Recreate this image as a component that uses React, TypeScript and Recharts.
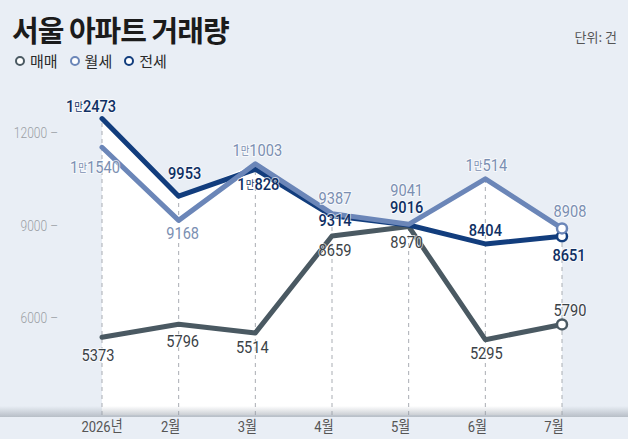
import React from 'react';
import { Area, ComposedChart, LabelList, Line, ReferenceLine, XAxis, YAxis } from 'recharts';

const MONTHS = ['2026년', '2월', '3월', '4월', '5월', '6월', '7월'];
const SALE = [5373, 5796, 5514, 8659, 8970, 5295, 5790];
const MONTHLY_RENT = [11540, 9168, 11003, 9387, 9041, 10514, 8908];
const JEONSE = [12473, 9953, 10828, 9314, 9016, 8404, 8651];
const Y_TICKS = [6000, 9000, 12000];
const Y_DOMAIN: [number, number] = [2850, 13400];

// label placement [dx, dy] relative to each point
const SALE_LABEL_POS = [[-4, 24], [4, 23], [-3, 20], [3, 20], [-2, 22], [1, 19], [8, -8]];
const RENT_LABEL_POS = [[-7, 26], [4, 19], [2, -8], [3, -10], [-2, -28], [1, -8], [8, -11]];
const JEONSE_LABEL_POS = [[-11, -7], [6, -17], [3, 21], [3, 10], [-2, -12], [0, -8], [7, 25]];

const SERIES = [
  { key: 'sale', name: '매매', values: SALE, color: '#4a5962', text: '#3b4247', weight: 400, pos: SALE_LABEL_POS },
  { key: 'jeonse', name: '전세', values: JEONSE, color: '#123d7d', text: '#0f2f63', weight: 500, pos: JEONSE_LABEL_POS },
  { key: 'rent', name: '월세', values: MONTHLY_RENT, color: '#6b86b8', text: '#7b8fb2', weight: 400, pos: RENT_LABEL_POS }
];
const LEGEND = [SERIES[0], SERIES[2], SERIES[1]];

const data = MONTHS.map((month, i) => ({
  month,
  sale: SALE[i],
  rent: MONTHLY_RENT[i],
  jeonse: JEONSE[i],
  top: Math.max(SALE[i], MONTHLY_RENT[i], JEONSE[i])
}));

const NUM_FONT = 'Roboto, "Noto Sans CJK KR", sans-serif';
const KR_FONT = '"Noto Sans CJK KR", "Noto Sans", sans-serif';

function valueLabel(color: string, weight: number, pos: number[][]) {
  return (props: any) => {
    const { x, y, value, index } = props;
    const [dx, dy] = pos[index] || [0, -8];
    const v = Number(value);
    const man = Math.floor(v / 10000);
    const rest = v % 10000;
    return (
      <text transform={`translate(${x + dx},${y + dy}) scale(0.86,1)`} textAnchor="middle" fill={color}
        fontFamily={NUM_FONT} fontSize={17} fontWeight={weight} stroke="#fff" strokeWidth={2} strokeOpacity={0.7}
        paintOrder="stroke">
        {man > 0 && <tspan>{man}</tspan>}
        {man > 0 && <tspan fontSize={11} fontFamily={KR_FONT} fontWeight={400} dy={-1}>만</tspan>}
        <tspan dy={man > 0 ? 1 : 0}>{man > 0 ? rest : v}</tspan>
      </text>
    );
  };
}

function lastDot(color: string) {
  return (props: any) => {
    const { cx, cy, index } = props;
    if (index !== MONTHS.length - 1) return <g key={index} />;
    return <circle key={index} cx={cx} cy={cy} r={5} fill="#fff" stroke={color} strokeWidth={2.5} />;
  };
}

function MonthTick(props: any) {
  const { x, y, payload, index } = props;
  return (
    <text transform={`translate(${x + (index === 0 ? 0 : -8)},${y + 15}) scale(0.84,1)`} textAnchor="middle"
      fill="#555" fontFamily={NUM_FONT} fontSize={15.5}>
      {payload.value}
    </text>
  );
}

function ValueTick(props: any) {
  const { x, y, payload } = props;
  return (
    <text transform={`translate(${x},${y + 5}) scale(0.86,1)`} textAnchor="end" fill="#9a9ea4" fontFamily={NUM_FONT}
      fontSize={14} fontWeight={300}>
      {payload.value} –
    </text>
  );
}

export default function App() {
  return (
    <div style={{ position: 'absolute', left: 0, top: 0, width: 628, height: 439, background: '#e9eef5', overflow: 'hidden' }}>
      <div style={{ position: 'absolute', left: 12, top: 8, fontFamily: KR_FONT, fontWeight: 700, fontSize: 29, letterSpacing: -1, color: '#1b1b1b' }}>
        서울 아파트 거래량
      </div>
      <div style={{ position: 'absolute', right: 11, top: 27, fontFamily: KR_FONT, fontSize: 13, color: '#555' }}>단위: 건</div>
      <div style={{ position: 'absolute', left: 15, top: 50, display: 'flex', gap: 12, fontFamily: KR_FONT, fontSize: 15, color: '#2a2a2a' }}>
        {LEGEND.map((s) => (
          <div key={s.key} style={{ display: 'flex', alignItems: 'center', gap: 5 }}>
            <span style={{ width: 6, height: 6, borderRadius: '50%', border: `2.5px solid ${s.color}`, background: '#fff' }} />
            <span>{s.name}</span>
          </div>
        ))}
      </div>
      <div style={{ position: 'absolute', left: 0, top: 0 }}>
        <ComposedChart width={628} height={439} data={data} margin={{ top: 90, right: 66, bottom: 0, left: 42 }}>
          <XAxis dataKey="month" scale="point" padding={{ left: 0, right: 0 }} axisLine={false} tickLine={false}
            tickSize={0} height={24} tick={<MonthTick />} interval={0} />
          <YAxis type="number" domain={Y_DOMAIN} ticks={Y_TICKS} allowDataOverflow axisLine={false} tickLine={false}
            tickSize={0} tickMargin={44} width={60} tick={<ValueTick />} />
          <Area dataKey="top" type="linear" stroke="none" fill="#ffffff" fillOpacity={1} baseValue="dataMin"
            isAnimationActive={false} activeDot={false} />
          {data.map((d) => (
            <ReferenceLine key={d.month} segment={[{ x: d.month, y: Y_DOMAIN[0] }, { x: d.month, y: d.top }]}
              stroke="#a9adb3" strokeDasharray="4 4" strokeWidth={1} ifOverflow="visible" />
          ))}
          {SERIES.map((s) => (
            <Line key={s.key} dataKey={s.key} type="linear" stroke={s.color} strokeWidth={5} strokeLinejoin="round"
              strokeLinecap="round" dot={lastDot(s.color)} activeDot={false} isAnimationActive={false}>
              <LabelList dataKey={s.key} content={valueLabel(s.text, s.weight, s.pos)} />
            </Line>
          ))}
        </ComposedChart>
      </div>
      <div style={{ position: 'absolute', left: 0, top: 406, width: 628, height: 11, pointerEvents: 'none',
        background: 'linear-gradient(to bottom, rgba(190,196,204,0), rgba(150,158,168,0.6))' }} />
    </div>
  );
}
